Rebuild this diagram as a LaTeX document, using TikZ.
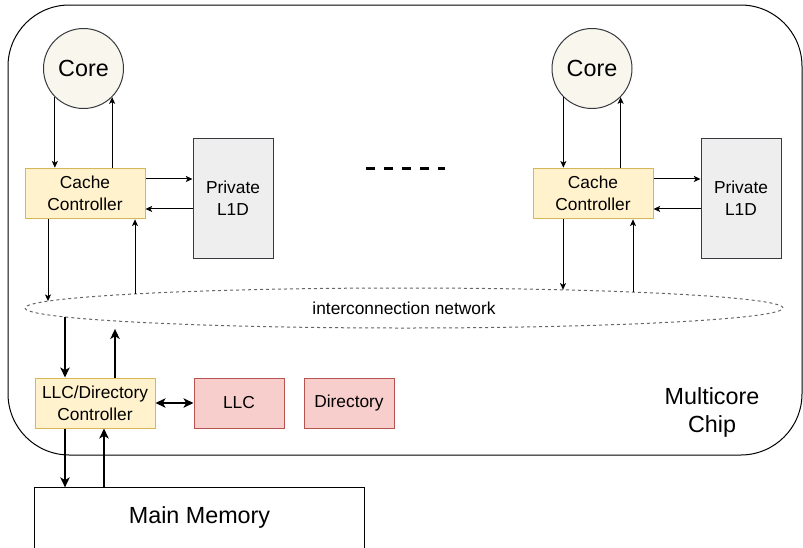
\documentclass[tikz,border=0pt]{standalone}
\usepackage{fontspec}
\setmainfont{Liberation Sans}
\usetikzlibrary{shapes.geometric,arrows.meta,positioning,calc}
\definecolor{corefill}{HTML}{F9F7ED}
\definecolor{coredraw}{HTML}{36393D}
\definecolor{ctrlfill}{HTML}{FFF2CC}
\definecolor{ctrldraw}{HTML}{D6B656}
\definecolor{memfill}{HTML}{EEEEEE}
\definecolor{llcfill}{HTML}{F8CECC}
\definecolor{llcdraw}{HTML}{B85450}
\tikzset{
  core/.style={circle, draw=coredraw, fill=corefill, line width=0.75pt, minimum size=60pt, inner sep=0pt, font=\fontsize{17.5}{21}\selectfont},
  ctrl/.style={draw=ctrldraw, fill=ctrlfill, line width=0.75pt, minimum width=90pt, minimum height=38pt, inner sep=0pt, align=center, font=\fontsize{13}{16.3}\selectfont},
  lonebox/.style={draw=coredraw, fill=memfill, line width=0.75pt, minimum width=60pt, minimum height=90pt, inner sep=0pt, align=center, font=\fontsize{13}{16.3}\selectfont},
  llcbox/.style={draw=llcdraw, fill=llcfill, line width=0.75pt, minimum width=67.5pt, minimum height=37.5pt, inner sep=0pt, font=\fontsize{13}{16.3}\selectfont},
  thinarr/.style={line width=0.75pt, -{Stealth[length=5pt,width=4.5pt,inset=1.2pt]}},
  thickarr/.style={line width=1.5pt, -{Stealth[length=7.5pt,width=7pt,inset=2pt]}}
}
\begin{document}
\begin{tikzpicture}[x=0.75pt, y=-0.75pt]
  \useasboundingbox (0,0) rectangle (803,547);
  \draw[line width=0.75pt, rounded corners=46pt] (8,5) rectangle (802,455);
  \node[align=center, font=\fontsize{17.5}{21}\selectfont] (chiplabel) at (712,412) {Multicore\\Chip};

  \node[core] (core1) at (83.5,68.5) {Core};
  \node[core] (core2) at (592,68.5) {Core};
  \node[ctrl] (cc1) at (85,193.5) {Cache\\Controller};
  \node[ctrl] (cc2) at (593,193.5) {Cache\\Controller};
  \node[lonebox] (l1d1) at (233,198) {Private\\L1D};
  \node[lonebox] (l1d2) at (741,198) {Private\\L1D};
  \node[ellipse, draw=black!60, line width=0.75pt, dash pattern=on 2.25pt off 2.25pt, minimum width=568.5pt, minimum height=30pt, inner sep=0pt, font=\fontsize{13}{16}\selectfont] (net) at (404,308) {interconnection network};
  \node[ctrl, minimum height=37.5pt] (llcc) at (95,403) {LLC/Directory\\Controller};
  \node[llcbox] (llc) at (239,403) {LLC};
  \node[llcbox] (dir) at (349,403) {Directory};
  \node[minimum width=246.75pt, minimum height=44pt, inner sep=0pt, font=\fontsize{17.5}{21}\selectfont] (mem) at (199.5,517) {Main Memory};
  \draw[line width=0.75pt] ([yshift=-30pt]mem.south west) -- (mem.north west) -- (mem.north east) -- ([yshift=-30pt]mem.south east);

  \draw[line width=2.25pt, dash pattern=on 6.75pt off 6.75pt] (366,168.7) -- (445,168.7);

  \coordinate (net1) at ($(net.center)+(-356,-6.9)$);
  \coordinate (net2) at ($(net.center)+(-269,-14.1)$);
  \coordinate (net3) at ($(net.center)+(159,-18.2)$);
  \coordinate (net4) at ($(net.center)+(229,-15.9)$);
  \coordinate (net5) at ($(net.center)+(-339,8.9)$);
  \coordinate (net6) at ($(net.center)+(-289,12.9)$);

  \draw[thinarr] (core1.225) -- (core1.225 |- cc1.north);
  \draw[thinarr] (core1.-45 |- cc1.north) -- (core1.-45);
  \draw[thinarr] ([yshift=10.9pt]cc1.east) -- ([yshift=10.9pt]cc1.east -| l1d1.west);
  \draw[thinarr] ([yshift=-11.6pt]cc1.east -| l1d1.west) -- ([yshift=-11.6pt]cc1.east);
  \draw[thinarr] (net1 |- cc1.south) -- (net1);
  \draw[thinarr] (net2) -- (net2 |- cc1.south);

  \draw[thinarr] (core2.225) -- (core2.225 |- cc2.north);
  \draw[thinarr] (core2.-45 |- cc2.north) -- (core2.-45);
  \draw[thinarr] ([yshift=10.9pt]cc2.east) -- ([yshift=10.9pt]cc2.east -| l1d2.west);
  \draw[thinarr] ([yshift=-11.6pt]cc2.east -| l1d2.west) -- ([yshift=-11.6pt]cc2.east);
  \draw[thinarr] (net3 |- cc2.south) -- (net3);
  \draw[thinarr] (net4) -- (net4 |- cc2.south);

  \draw[thickarr] (net5) -- (net5 |- llcc.north);
  \draw[thickarr, shorten >=6pt] (net6 |- llcc.north) -- (net6);
  \draw[line width=1.5pt, {Stealth[length=7.5pt,width=7pt,inset=2pt]}-{Stealth[length=7.5pt,width=7pt,inset=2pt]}] (llcc.east) -- (llc.west);
  \draw[thickarr] ([xshift=-22.5pt]llcc.south) -- ([xshift=-22.5pt]llcc.south |- mem.north);
  \draw[thickarr] ([xshift=6.75pt]llcc.south |- mem.north) -- ([xshift=6.75pt]llcc.south);
\end{tikzpicture}
\end{document}
